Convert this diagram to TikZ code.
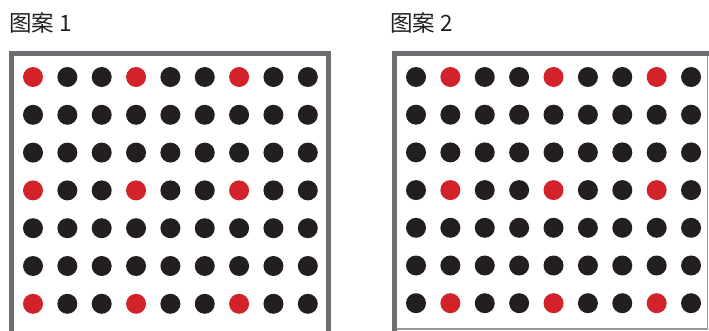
\documentclass[tikz,border=0pt]{standalone}
\usepackage{fontspec}
\setmainfont{Noto Sans CJK SC}
\usepackage{tikz}
\definecolor{dotred}{HTML}{D2232A}
\definecolor{dotblack}{HTML}{231F20}
\definecolor{framegray}{HTML}{6D6E71}
\tikzset{
  pdot/.style={circle, fill=dotblack, minimum size=20pt, inner sep=0pt},
  pdotred/.style={pdot, fill=dotred},
  pframe/.style={draw=framegray, line width=4.5pt},
  pframethin/.style={draw=framegray!70, line width=1.2pt},
  ptitle/.style={anchor=base west, inner sep=0pt, font=\fontsize{22.5}{26}\selectfont,
                 text=dotblack}
}

\begin{document}
\begin{tikzpicture}[x=1pt, y=-1pt]
  \useasboundingbox (0,0) rectangle (709,331);
  % titles
  \node[ptitle] (t1) at (9, 32) {图案 1};
  \node[ptitle] (t2) at (390, 32) {图案 2};
  % frames
  \draw[pframe] (11.5,331) -- (11.5,53.5) -- (328.5,53.5) -- (328.5,331);
  \draw[pframethin] (394.5,329) -- (707.6,329) -- (707.6,53.5);
  \draw[pframe] (394.5,331) -- (394.5,53.5) -- (709,53.5);
  % dots
  \foreach \r in {1,...,7} {
    \foreach \c in {1,...,9} {
      \pgfmathtruncatemacro{\red}{(mod(\r,3)==1) && (mod(\c,3)==1)}
      \pgfmathtruncatemacro{\redb}{(mod(\r,3)==1) && (mod(\c,3)==2)}
      \ifnum\red=1
        \node[pdotred] (a\r\c) at (33+34.35*\c-34.35, 77+37.8*\r-37.8) {};
      \else
        \node[pdot] (a\r\c) at (33+34.35*\c-34.35, 77+37.8*\r-37.8) {};
      \fi
      \ifnum\redb=1
        \node[pdotred] (b\r\c) at (416+34.38*\c-34.38, 77+37.7*\r-37.7) {};
      \else
        \node[pdot] (b\r\c) at (416+34.38*\c-34.38, 77+37.7*\r-37.7) {};
      \fi
    }
  }
\end{tikzpicture}
\end{document}
